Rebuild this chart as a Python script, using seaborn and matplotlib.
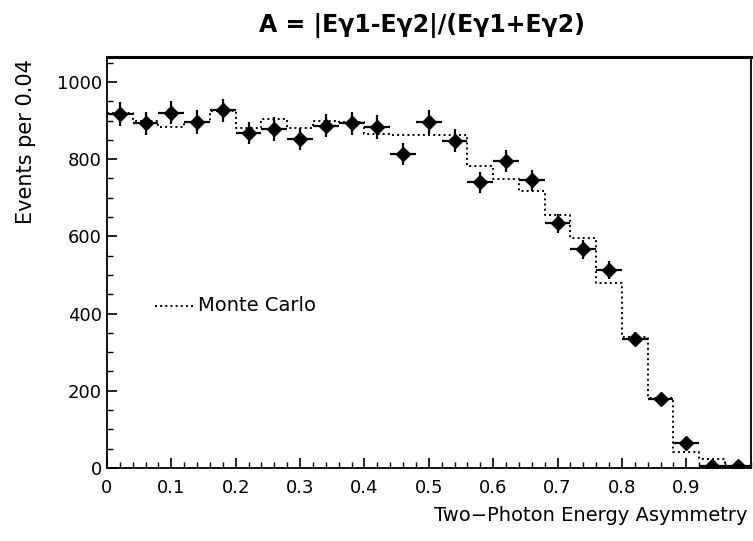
import seaborn as sns
import matplotlib
matplotlib.use("Agg")
import matplotlib.pyplot as plt
from matplotlib.ticker import MultipleLocator
import pandas as pd

# two-photon energy asymmetry, bins of 0.04
bin_center = [0.02, 0.06, 0.10, 0.14, 0.18, 0.22, 0.26, 0.30, 0.34, 0.38, 0.42, 0.46, 0.50,
              0.54, 0.58, 0.62, 0.66, 0.70, 0.74, 0.78, 0.82, 0.86, 0.90, 0.94, 0.98]
data_counts = [917, 893, 920, 896, 927, 867, 878, 852, 886, 893, 883, 813, 896,
               848, 740, 795, 745, 634, 566, 512, 335, 178, 65, 6, 4]
data_err = [30, 30, 30, 30, 30, 29, 30, 29, 30, 30, 30, 28, 30,
            29, 27, 28, 27, 25, 24, 23, 18, 13, 8, 3, 3]
mc_counts = [920, 900, 883, 895, 925, 880, 905, 880, 898, 895, 865, 862, 862,
             862, 782, 748, 717, 655, 595, 478, 338, 180, 42, 23, 6]

df = pd.DataFrame({"A": bin_center, "mc": mc_counts})

sns.set_theme(style="ticks")
plt.rcParams['font.family'] = ['DejaVu Sans']
plt.rcParams['text.color'] = 'black'
plt.rcParams['xtick.color'] = 'black'
plt.rcParams['ytick.color'] = 'black'

fig = plt.figure(figsize=(7.53, 5.41), dpi=100)
ax = fig.add_axes([0.142, 0.135, 0.855, 0.76])

# Monte Carlo histogram (dotted steps)
sns.histplot(data=df, x="A", weights="mc", binwidth=0.04, binrange=(0, 1),
             element="step", fill=False, color="black", linestyle=":",
             linewidth=1.4, ax=ax)

# data points
ax.errorbar(bin_center, data_counts, xerr=0.02, yerr=data_err, fmt="D",
            color="black", markersize=7.5, elinewidth=1.6, capsize=0, zorder=3)

ax.set_xlim(0, 1)
ax.set_ylim(0, 1065)
ax.set_xticks([0, 0.1, 0.2, 0.3, 0.4, 0.5, 0.6, 0.7, 0.8, 0.9])
ax.set_xticklabels(["0", "0.1", "0.2", "0.3", "0.4", "0.5", "0.6", "0.7", "0.8", "0.9"])
ax.set_yticks([0, 200, 400, 600, 800, 1000])
ax.xaxis.set_minor_locator(MultipleLocator(0.02))
ax.yaxis.set_minor_locator(MultipleLocator(50))
ax.tick_params(which="both", direction="in", top=False, right=False, labelsize=13,
               color="black", labelcolor="black")
ax.tick_params(axis="x", pad=8)
ax.tick_params(which="major", length=7, width=1.2)
ax.tick_params(which="minor", length=4, width=1)
for s in ax.spines.values():
    s.set_color("black")
    s.set_linewidth(1.3)
ax.spines["top"].set_linewidth(2.2)

ax.set_ylabel("")
ax.set_xlabel("")
fig.text(0.993, 0.03, "Two\u2212Photon Energy Asymmetry", ha="right", va="bottom", fontsize=14)
fig.text(0.035, 0.89, "Events per 0.04", rotation=90, ha="center", va="top", fontsize=15)
fig.text(0.56, 0.93, "A = |E\u03b31-E\u03b32|/(E\u03b31+E\u03b32)", ha="center", va="bottom",
         fontsize=17, fontweight="semibold")

# Monte Carlo label
ax.plot([0.075, 0.134], [420, 420], color="black", linestyle=":", linewidth=1.4)
ax.text(0.142, 420, "Monte Carlo", ha="left", va="center", fontsize=14)

fig.savefig("out.png", dpi=100)
